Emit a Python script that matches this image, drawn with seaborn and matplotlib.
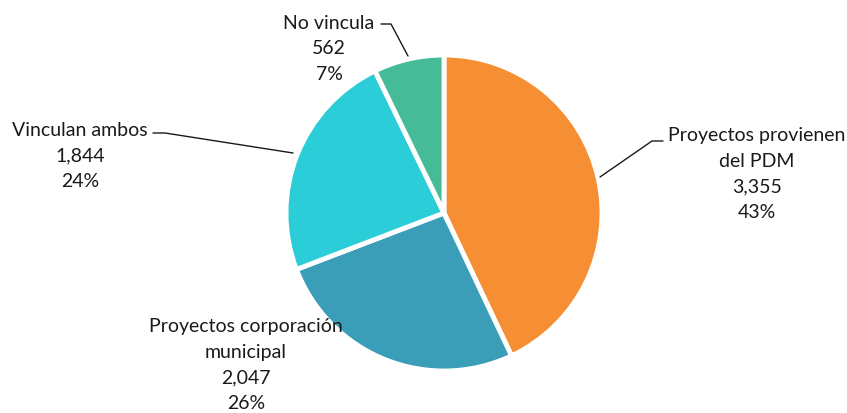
import matplotlib
matplotlib.use("Agg")
import matplotlib.pyplot as plt
import seaborn as sns

sns.set_theme(style="white")
plt.rcParams['font.family'] = ['Lato', 'DejaVu Sans']

categories = ["Proyectos provienen\ndel PDM", "Proyectos corporación\nmunicipal", "Vinculan ambos", "No vincula"]
values = [3355, 2047, 1844, 562]
colors = ["#F68E33", "#3A9EB9", "#2BCDD8", "#46BB98"]

W, H = 847, 414
fig = plt.figure(figsize=(W / 100, H / 100), dpi=100)
ax = fig.add_axes([0, 0, 1, 1])

cx, cy, r = 444, H - 214, 158
ax.pie(values, colors=colors, startangle=90, counterclock=False,
       center=(cx, cy), radius=r,
       wedgeprops=dict(edgecolor='white', linewidth=3.5))

# pie() resets the limits, so set them afterwards
ax.set_xlim(0, W)
ax.set_ylim(0, H)
ax.set_aspect('equal')
ax.axis('off')

total = sum(values)
pct = [round(v / total * 100) for v in values]

# label anchor (px from top-left) and optional leader line
label_pos = [(757, 174), (246, 365), (80, 156), (329, 49)]
leaders = [[(663, 142), (652, 142), (600, 178)],
           None,
           [(153, 134), (165, 134), (293, 154)],
           [(381, 25), (391, 25), (408, 57)]]

for cat, v, p, (lx, ly), ld in zip(categories, values, pct, label_pos, leaders):
    ax.text(lx, H - ly, f"{cat}\n{v:,}\n{p}%", ha='center', va='center',
            fontsize=14, color='#1a1a1a', linespacing=1.62)
    if ld:
        xs = [pt[0] for pt in ld]
        ys = [H - pt[1] for pt in ld]
        ax.plot(xs, ys, color='#1a1a1a', linewidth=1)

plt.savefig("out.png", dpi=100)
